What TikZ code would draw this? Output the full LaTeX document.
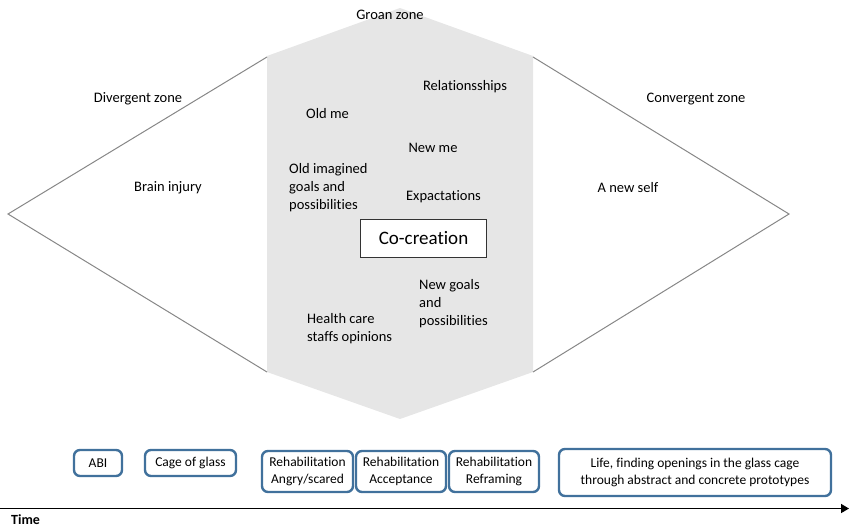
\documentclass[tikz,border=0pt]{standalone}
\usepackage{fontspec}
\setmainfont{Carlito}[Ligatures=CommonOff]
\usetikzlibrary{arrows.meta, positioning}

\definecolor{groangray}{RGB}{230,230,230}
\definecolor{zoneline}{RGB}{135,135,135}
\definecolor{phaseblue}{RGB}{65,113,156}

\begin{document}
\begin{tikzpicture}[x=1pt, y=-1pt, >=Latex,
	lbl/.style={font=\fontsize{14.5}{18}\selectfont, inner sep=0pt},
	lblleft/.style={lbl, align=left, anchor=west},
	zone/.style={zoneline, line width=1pt},
	phase/.style={draw=phaseblue, line width=2.4pt, rounded corners=6pt, fill=white,
		align=center, inner sep=0pt, font=\fontsize{13.5}{17.5}\selectfont}]
	
	\useasboundingbox (0,0) rectangle (849,528);
	
	% Shaded groan zone (hexagon)
	\fill[groangray] (267,56) -- (400,8) -- (533,56) -- (533,372)
	-- (400,419) -- (267,372) -- cycle;
	
	% Corners of the divergent and convergent zones
	\coordinate (divtop) at (267,57);
	\coordinate (divtip) at (8,214);
	\coordinate (divbot) at (267,372);
	\coordinate (contop) at (533,57);
	\coordinate (contip) at (789,214);
	\coordinate (conbot) at (533,372);
	
	\draw[zone] (divtop) -- (divtip) -- (divbot);
	\draw[zone] (contop) -- (contip) -- (conbot);
	
	% Zone labels
	\node[lbl] (groan) at (390,15) {Groan zone};
	\node[lbl] (divergent) at (138,99) {Divergent zone};
	\node[lbl] (convergent) at (696,99) {Convergent zone};
	\node[lbl] (braininjury) at (168,188) {Brain injury};
	\node[lbl] (newself) at (628,188) {A new self};
	
	% Inside the groan zone
	\node[lbl] (relations) at (465,87) {Relationsships};
	\node[lbl] (oldme) at (327.5,114) {Old me};
	\node[lbl] (newme) at (433,148) {New me};
	\node[lblleft] (oldgoals) at (289,188) {Old imagined\\goals and\\possibilities};
	\node[lbl] (expect) at (443.5,197) {Expactations};
	\node[draw=black!80, line width=1.2pt, fill=white, minimum width=126pt,
		minimum height=38pt, font=\fontsize{19}{22}\selectfont] (cocreation)
		at (423.5,238.5) {Co-creation};
	\node[lblleft] (newgoals) at (419,304) {New goals\\and\\possibilities};
	\node[lblleft] (healthcare) at (307,329) {Health care\\staffs opinions};
	
	% Phases along the time line
	\node[phase, minimum width=48pt, minimum height=26pt] (abi) at (98,463) {ABI};
	\node[phase, minimum width=91pt, minimum height=26pt] (cage) at (190.5,463) {Cage of glass};
	\node[phase, minimum width=91pt, minimum height=41pt] (rehabone) at (307.5,471.5) {Rehabilitation\\Angry/scared};
	\node[phase, minimum width=90pt, minimum height=41pt] (rehabtwo) at (401,471.5) {Rehabilitation\\Acceptance};
	\node[phase, minimum width=90pt, minimum height=41pt] (rehabthree) at (494,471.5) {Rehabilitation\\Reframing};
	\node[phase, minimum width=272pt, minimum height=47pt] (life) at (695,472.5)
		{Life, finding openings in the glass cage\\through abstract and concrete prototypes};
	
	% Time axis
	\coordinate (tstart) at (0,508.5);
	\coordinate (tend) at (849,508.5);
	\draw[-{Triangle[length=8pt,width=9pt]}, line width=1.6pt] (tstart) -- (tend);
	\node[font=\bfseries\fontsize{14}{16}\selectfont, anchor=west, inner sep=0pt] (time) at (11,520) {Time};
	
\end{tikzpicture}
\end{document}
